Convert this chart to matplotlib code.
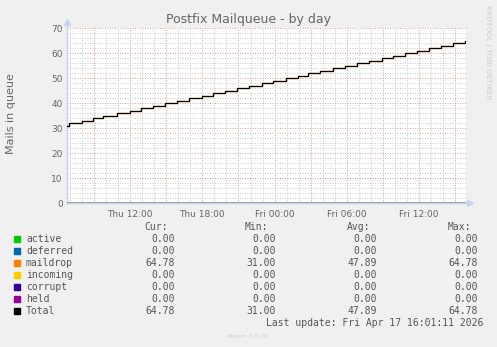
import matplotlib
matplotlib.use("Agg")
import matplotlib.pyplot as plt
from matplotlib.ticker import MultipleLocator, FixedLocator

# step times (hours after Thu 00:00) and queue size after each step
step_hours = [6.77, 6.94, 7.99, 8.90, 9.78, 10.95, 12.00, 12.95, 13.93, 14.90,
              15.93, 16.92, 17.95, 18.86, 19.88, 20.85, 21.90, 22.93, 23.89, 24.92,
              25.97, 26.80, 27.77, 28.82, 29.84, 30.81, 31.86, 32.89, 33.85, 34.82,
              35.84, 36.84, 37.81, 38.83, 39.80, 39.88]
total = [31, 32, 33, 34, 35, 36, 37, 38, 39, 40,
         41, 42, 43, 44, 45, 46, 47, 48, 49, 50,
         51, 52, 53, 54, 55, 56, 57, 58, 59, 60,
         61, 62, 63, 64, 64.78, 64.78]
maildrop = total
zeros = [0] * len(step_hours)

tick_hours = [12, 18, 24, 30, 36]
tick_labels = ["Thu 12:00", "Thu 18:00", "Fri 00:00", "Fri 06:00", "Fri 12:00"]

series = ["active", "deferred", "maildrop", "incoming", "corrupt", "held", "Total"]
colors = ["#00CC00", "#0066B3", "#FF8000", "#FFCC00", "#330099", "#990099", "#000000"]
cur = ["0.00", "0.00", "64.78", "0.00", "0.00", "0.00", "64.78"]
mins = ["0.00", "0.00", "31.00", "0.00", "0.00", "0.00", "31.00"]
avgs = ["0.00", "0.00", "47.89", "0.00", "0.00", "0.00", "47.89"]
maxs = ["0.00", "0.00", "64.78", "0.00", "0.00", "0.00", "64.78"]

W, H = 497, 347
fig = plt.figure(figsize=(W / 100, H / 100), dpi=100, facecolor="#F0F0F0")
x0, x1, y0, y1 = 67, 466, 28, 203
ax = fig.add_axes([x0 / W, 1 - y1 / H, (x1 - x0) / W, (y1 - y0) / H])
ax.set_facecolor("white")
ax.set_xlim(step_hours[0], step_hours[-1])
ax.set_ylim(0, 70)

for s in ax.spines.values():
    s.set_visible(False)

# grid: minor grey, major red, both dotted
dots = (0, (1, 1.5))
for h in range(7, 40):
    c = "#E6A0A0" if h % 3 == 0 else "#CCCCCC"
    ax.axvline(h, color=c, lw=0.72, ls=dots, zorder=1)
for v in range(2, 71, 2):
    c = "#E6A0A0" if v % 10 == 0 else "#CCCCCC"
    ax.axhline(v, color=c, lw=0.72, ls=dots, zorder=1)

# series
for col in colors[:2]:
    ax.step(step_hours, zeros, where="post", color=col, lw=1, zorder=3)
ax.step(step_hours, maildrop, where="post", color=colors[2], lw=0.9, zorder=3)
for col in colors[3:6]:
    ax.step(step_hours, zeros, where="post", color=col, lw=1, zorder=3, alpha=0.5)
ax.step(step_hours, total, where="post", color="black", lw=0.9, zorder=4)

# axes lines with arrows
axis_c = "#C8D0F4"
ax.plot([0, 0], [0, 1.035], transform=ax.transAxes, color=axis_c, lw=1, clip_on=False, zorder=2)
ax.plot([0, 1.01], [0, 0], transform=ax.transAxes, color=axis_c, lw=1, clip_on=False, zorder=2)
ax.plot([0], [1.035], transform=ax.transAxes, marker="^", ms=4, color=axis_c, clip_on=False)
ax.plot([1.01], [0], transform=ax.transAxes, marker=">", ms=4, color=axis_c, clip_on=False)

ax.yaxis.set_major_locator(MultipleLocator(10))
ax.xaxis.set_major_locator(FixedLocator(tick_hours))
ax.set_xticklabels(tick_labels)
ax.tick_params(axis="both", colors="#666666", labelsize=6.5, length=0, pad=3)
ax.tick_params(axis="x", pad=5)

fig.text(248 / W, 1 - 19 / H, "Postfix Mailqueue - by day", ha="center", va="center",
         fontsize=9, color="#666666")
fig.text(11 / W, 1 - 114 / H, "Mails in queue", ha="center", va="center", rotation=90,
         fontsize=8, color="#666666")
fig.text(488 / W, 1 - 52 / H, "RRDTOOL / TOBI OETIKER", ha="center", va="center",
         rotation=270, fontsize=5.3, color="#CCCCCC")

# legend table
mono = dict(family="DejaVu Sans Mono", fontsize=7, color="#555555", va="center")
fig.text(168 / W, 1 - 227 / H, "Cur:", ha="right", **mono)
fig.text(268 / W, 1 - 227 / H, "Min:", ha="right", **mono)
fig.text(370 / W, 1 - 227 / H, "Avg:", ha="right", **mono)
fig.text(471 / W, 1 - 227 / H, "Max:", ha="right", **mono)
for i, name in enumerate(series):
    yy = 1 - (239.3 + 12 * i) / H
    fig.patches.append(plt.Rectangle((14 / W, yy - 3 / H), 6 / W, 6 / H,
                                     transform=fig.transFigure, color=colors[i]))
    fig.text(26 / W, yy, name, ha="left", **mono)
    fig.text(175 / W, yy, cur[i], ha="right", **mono)
    fig.text(276 / W, yy, mins[i], ha="right", **mono)
    fig.text(377 / W, yy, avgs[i], ha="right", **mono)
    fig.text(478 / W, yy, maxs[i], ha="right", **mono)
fig.text(483 / W, 1 - 323.3 / H, "Last update: Fri Apr 17 16:01:11 2026", ha="right", **mono)
fig.text(247 / W, 1 - 336.7 / H, "Munin 2.0.76", ha="center", va="center",
         fontsize=4.5, color="#CCCCCC")

fig.savefig("out.png", dpi=100, facecolor=fig.get_facecolor())
